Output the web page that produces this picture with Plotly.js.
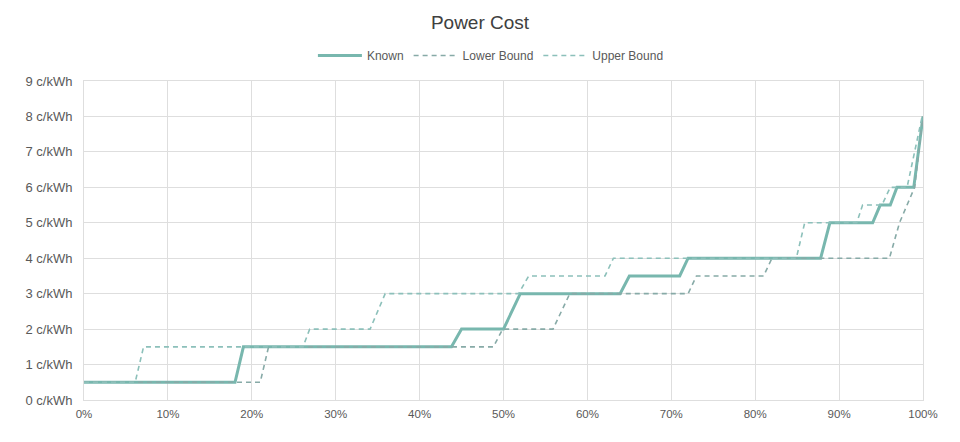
<!DOCTYPE html>
<html>
<head>
<meta charset="utf-8">
<script src="https://cdn.plot.ly/plotly-3.0.1.min.js"></script>
<style>html,body{margin:0;padding:0;background:#fff;}#chart{width:960px;height:442px;}</style>
</head>
<body>
<div id="chart"></div>
<script>
// Share of demand (%) and power cost (c/kWh) at step vertices
const knownX = [0, 18.0, 19.0, 43.8, 45.0, 50.0, 52.0, 63.9, 65.0, 71.0, 72.0, 87.8, 88.9, 94.0, 94.9, 96.1, 96.9, 98.9, 100];
const knownY = [0.5, 0.5, 1.5, 1.5, 2, 2, 3, 3, 3.5, 3.5, 4, 4, 5, 5, 5.5, 5.5, 6, 6, 8];

const lowerX = [0, 21.0, 22.0, 48.8, 49.9, 55.9, 57.9, 72.0, 73.0, 81.0, 82.0, 96.0, 97.2, 99.0, 100];
const lowerY = [0.5, 0.5, 1.5, 1.5, 2, 2, 3, 3, 3.5, 3.5, 4, 4, 5, 6, 8];

const upperX = [0, 6.1, 7.1, 26.1, 26.9, 34.1, 35.9, 51.8, 53.0, 62.1, 63.1, 84.9, 85.9, 92.1, 92.8, 95.1, 96.1, 98.1, 99.9];
const upperY = [0.5, 0.5, 1.5, 1.5, 2, 2, 3, 3, 3.5, 3.5, 4, 4, 5, 5, 5.5, 5.5, 6, 6, 8];

const seriesNames = ["Known", "Lower Bound", "Upper Bound"];
const xTicks = [0, 10, 20, 30, 40, 50, 60, 70, 80, 90, 100];
const xTickText = ["0%", "10%", "20%", "30%", "40%", "50%", "60%", "70%", "80%", "90%", "100%"];
const yTicks = [0, 1, 2, 3, 4, 5, 6, 7, 8, 9];
const yTickText = ["0 c/kWh", "1 c/kWh", "2 c/kWh", "3 c/kWh", "4 c/kWh", "5 c/kWh", "6 c/kWh", "7 c/kWh", "8 c/kWh", "9 c/kWh"];

const traces = [
  {x: knownX, y: knownY, name: seriesNames[0], mode: "lines",
   line: {color: "#78b7ae", width: 3}},
  {x: lowerX, y: lowerY, name: seriesNames[1], mode: "lines",
   line: {color: "#87aaa7", width: 1.6, dash: "5px,4px"}},
  {x: upperX, y: upperY, name: seriesNames[2], mode: "lines",
   line: {color: "#8cc0ba", width: 1.6, dash: "5px,4px"}}
];

const layout = {
  width: 960, height: 442,
  margin: {l: 84, r: 37, t: 81, b: 42},
  paper_bgcolor: "#fff", plot_bgcolor: "#fff",
  font: {family: "Liberation Sans, Arial, sans-serif", color: "#595959", size: 11},
  title: {text: "Power Cost", x: 0.5, xanchor: "center", y: 0.95, yanchor: "middle",
          font: {size: 19, color: "#404040"}},
  showlegend: true,
  legend: {orientation: "h", x: 0.485, xanchor: "center", y: 1.08, yanchor: "middle",
           itemwidth: 44,
           font: {size: 12, color: "#595959"}, traceorder: "normal"},
  xaxis: {range: [0, 100], tickmode: "array", tickvals: xTicks, ticktext: xTickText,
          showgrid: true, gridcolor: "#dedede", ticklabelstandoff: 3,
          zeroline: false, showline: true, mirror: true, linecolor: "#dedede", ticks: "",
          tickfont: {size: 11.5, color: "#595959"}, fixedrange: true},
  yaxis: {range: [0, 9], tickmode: "array", tickvals: yTicks, ticktext: yTickText,
          showgrid: true, gridcolor: "#dedede", ticklabelstandoff: 8,
          zeroline: false, showline: true, mirror: true, linecolor: "#dedede", ticks: "",
          tickfont: {size: 13, color: "#595959"}, fixedrange: true}
};

Plotly.newPlot("chart", traces, layout, {displayModeBar: false, staticPlot: true});
</script>
</body>
</html>
